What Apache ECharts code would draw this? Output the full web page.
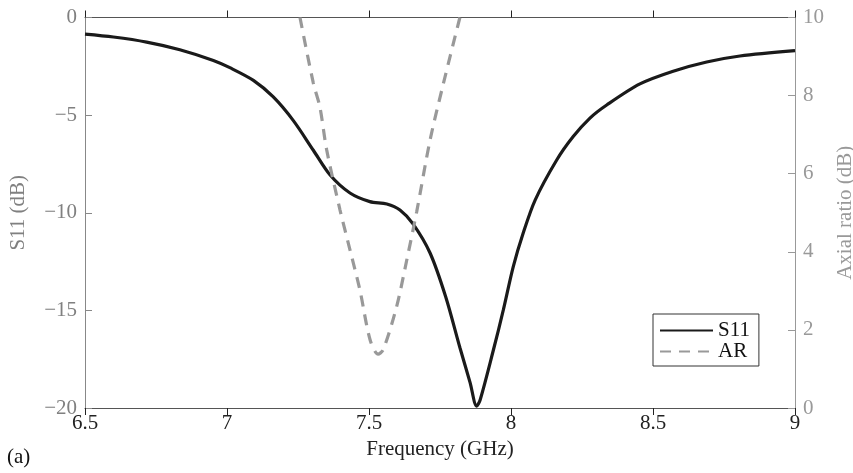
<!DOCTYPE html>
<html>
<head>
<meta charset="utf-8">
<script src="https://cdn.jsdelivr.net/npm/echarts@6/dist/echarts.min.js"></script>
<style>
  html, body { margin: 0; padding: 0; background: #fff; }
  #chart { width: 853px; height: 473px; }
</style>
</head>
<body>
<div id="chart"></div>
<script>
// S11 curve (dB) vs frequency (GHz)
const s11Freq = [6.5, 6.6, 6.717, 6.834, 6.952, 7.01, 7.093, 7.163, 7.233, 7.304, 7.363, 7.433, 7.503,
  7.563, 7.609, 7.655, 7.715, 7.77, 7.82, 7.856, 7.879, 7.891, 7.938, 7.973, 8.008, 8.043,
  8.085, 8.161, 8.219, 8.278, 8.337, 8.454, 8.571, 8.689, 8.806, 9.0]
const s11Vals = [-0.85, -1.0, -1.26, -1.65, -2.2, -2.57, -3.22, -4.07, -5.27, -6.8, -8.07, -8.99, -9.43,
  -9.55, -9.86, -10.57, -12.06, -14.3, -16.9, -18.7, -19.9, -19.6, -17.03, -14.98, -12.76, -11.04,
  -9.35, -7.3, -6.1, -5.15, -4.48, -3.4, -2.75, -2.28, -1.97, -1.7]

// axial ratio (dB)
const arFreq = [7.257, 7.304, 7.327, 7.351, 7.398, 7.433, 7.468, 7.504, 7.532, 7.55, 7.597, 7.633, 7.668, 7.715, 7.762, 7.82]
const arVals = [10, 8.32, 7.71, 6.61, 5.07, 4.05, 3.02, 1.74, 1.38, 1.49, 2.59, 3.79, 5.03, 6.86, 8.31, 10]

const xTicks = [6.5, 7, 7.5, 8, 8.5, 9]

const font = 'Liberation Serif'
const zip = (xs, ys) => xs.map((x, i) => [x, ys[i]])
const minus = v => (v < 0 ? '\u2212' + (-v) : String(v))

const chart = echarts.init(document.getElementById('chart'))

chart.setOption({
  animation: false,
  grid: { left: 85, right: 58, top: 17.5, bottom: 65, outerBoundsMode: 'none' },
  legend: {
    orient: 'vertical',
    left: 653,
    top: 314,
    itemWidth: 53,
    itemHeight: 14,
    itemGap: 0,
    padding: [6, 9, 4, 6],
    borderColor: '#333',
    borderWidth: 1,
    itemStyle: { opacity: 0 },
    textStyle: { fontFamily: font, fontSize: 21, color: '#111', lineHeight: 21 },
    data: ['S11', 'AR']
  },
  graphic: [
    { type: 'text', left: 7, top: 447, style: { text: '(a)', font: '21px "Liberation Serif"', fill: '#111' } }
  ],
  xAxis: [
    {
      type: 'value',
      min: 6.5,
      max: 9,
      interval: 0.5,
      name: 'Frequency (GHz)',
      nameLocation: 'middle',
      nameGap: 28,
      nameTextStyle: { fontFamily: font, fontSize: 21, color: '#222' },
      splitLine: { show: false },
      axisLine: { lineStyle: { color: '#555', width: 1 } },
      axisTick: { inside: true, length: 7, lineStyle: { color: '#222' } },
      axisLabel: {
        margin: 5,
        fontFamily: font,
        fontSize: 21,
        color: '#222',
        formatter: v => (xTicks.indexOf(v) >= 0 ? String(v) : '')
      }
    },
    {
      type: 'value',
      position: 'top',
      min: 6.5,
      max: 9,
      interval: 0.5,
      splitLine: { show: false },
      axisLine: { lineStyle: { color: '#555', width: 1 } },
      axisTick: { inside: true, length: 7, lineStyle: { color: '#222' } },
      axisLabel: { show: false }
    }
  ],
  yAxis: [
    {
      type: 'value',
      position: 'left',
      min: -20,
      max: 0,
      interval: 5,
      name: 'S11 (dB)',
      nameLocation: 'middle',
      nameGap: 56,
      nameTextStyle: { fontFamily: font, fontSize: 21, color: '#808080' },
      splitLine: { show: false },
      axisLine: { show: true, lineStyle: { color: '#888', width: 1 } },
      axisTick: { show: true, inside: true, length: 7, lineStyle: { color: '#888' } },
      axisLabel: { margin: 8, fontFamily: font, fontSize: 21, color: '#808080', formatter: minus }
    },
    {
      type: 'value',
      position: 'right',
      min: 0,
      max: 10,
      interval: 2,
      name: 'Axial ratio (dB)',
      nameLocation: 'middle',
      nameGap: 36,
      nameRotate: 90,
      nameTextStyle: { fontFamily: font, fontSize: 21, color: '#999' },
      splitLine: { show: false },
      axisLine: { show: true, lineStyle: { color: '#999', width: 1 } },
      axisTick: { show: true, inside: true, length: 7, lineStyle: { color: '#999' } },
      axisLabel: { margin: 8, fontFamily: font, fontSize: 21, color: '#999' }
    }
  ],
  series: [
    {
      name: 'S11',
      type: 'line',
      xAxisIndex: 0,
      yAxisIndex: 0,
      data: zip(s11Freq, s11Vals),
      smooth: 0.3,
      symbol: 'none',
      color: '#1a1a1a',
      lineStyle: { color: '#1a1a1a', width: 3.2 }
    },
    {
      name: 'AR',
      type: 'line',
      xAxisIndex: 0,
      yAxisIndex: 1,
      data: zip(arFreq, arVals),
      smooth: 0.3,
      symbol: 'none',
      color: '#999',
      lineStyle: { color: '#999', width: 3.2, type: [11, 8] }
    }
  ]
})
</script>
</body>
</html>
